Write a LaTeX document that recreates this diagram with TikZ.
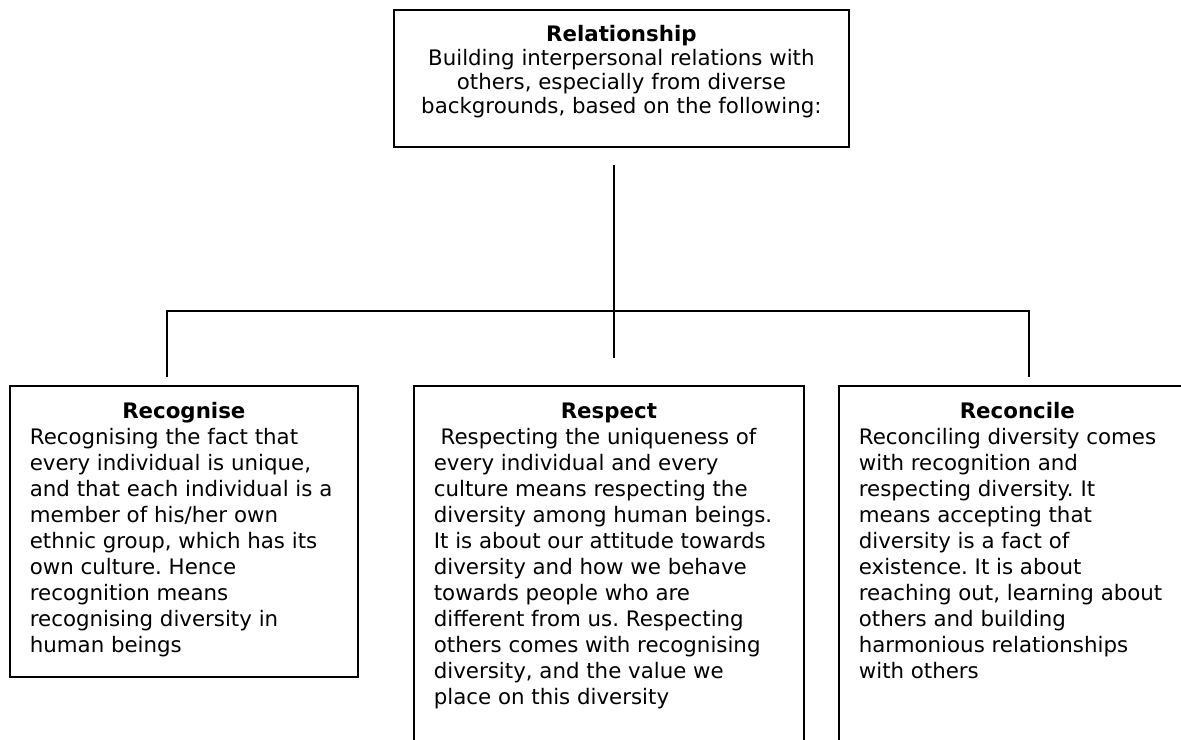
\documentclass[tikz,border=0pt]{standalone}
\usepackage{fontspec}
\setmainfont{DejaVu Sans}
\usetikzlibrary{calc, positioning}
\frenchspacing

% nội dung một ô: chiều cao, bề rộng, tiêu đề, phần chữ
\newcommand{\oChu}[4]{%
  \begin{minipage}[t][#1][t]{#2}
    \centering\strut\textbf{#3}\par
    \raggedright #4
  \end{minipage}}

\begin{document}
\begin{tikzpicture}[x=0.75pt, y=-0.75pt,
    khung/.style={draw, line width=1.3pt, anchor=north west,
      inner xsep=15pt, inner ysep=11pt,
      font=\fontsize{16}{19.5}\selectfont},
    noi/.style={line width=1.2pt}]
    \useasboundingbox (0,0) rectangle (1181,739);

    % Ô trên cùng
    \node[khung] (rel) at (393,9) {%
      \begin{minipage}[t][80.75pt][t]{311.25pt}
        \centering\fontsize{16}{18}\selectfont
        \strut\textbf{Relationship}\\
        Building interpersonal relations with\\
        others, especially from diverse\\
        backgrounds, based on the following:
      \end{minipage}};

    % Ba ô bên dưới
    \node[khung] (recog) at (9,385) {\oChu{196.25pt}{231pt}{Recognise}{%
      Recognising the fact that\\
      every individual is unique,\\
      and that each individual is a\\
      member of his/her own\\
      ethnic group, which has its\\
      own culture. Hence\\
      recognition means\\
      recognising diversity in\\
      human beings}};

    \node[khung] (resp) at (413,385) {\oChu{259.25pt}{262.5pt}{Respect}{%
      \ Respecting the uniqueness of\\
      every individual and every\\
      culture means respecting the\\
      diversity among human beings.\\
      It is about our attitude towards\\
      diversity and how we behave\\
      towards people who are\\
      different from us. Respecting\\
      others comes with recognising\\
      diversity, and the value we\\
      place on this diversity}};

    \node[khung] (recon) at (838,385) {\oChu{259.25pt}{237.75pt}{Reconcile}{%
      Reconciling diversity comes\\
      with recognition and\\
      respecting diversity. It\\
      means accepting that\\
      diversity is a fact of\\
      existence. It is about\\
      reaching out, learning about\\
      others and building\\
      harmonious relationships\\
      with others}};

    % Đường nối
    \coordinate (goc) at (614,165);
    \coordinate (nhanh) at (614,311);
    \coordinate (duoi) at (614,358);
    \coordinate (trai) at (167,311);
    \coordinate (phai) at (1029,311);
    \coordinate (traiB) at (167,377);
    \coordinate (phaiB) at (1029,377);

    \draw[noi] (goc) -- (duoi);
    \draw[noi] (traiB) -- (trai) -- (phai) -- (phaiB);
\end{tikzpicture}
\end{document}
